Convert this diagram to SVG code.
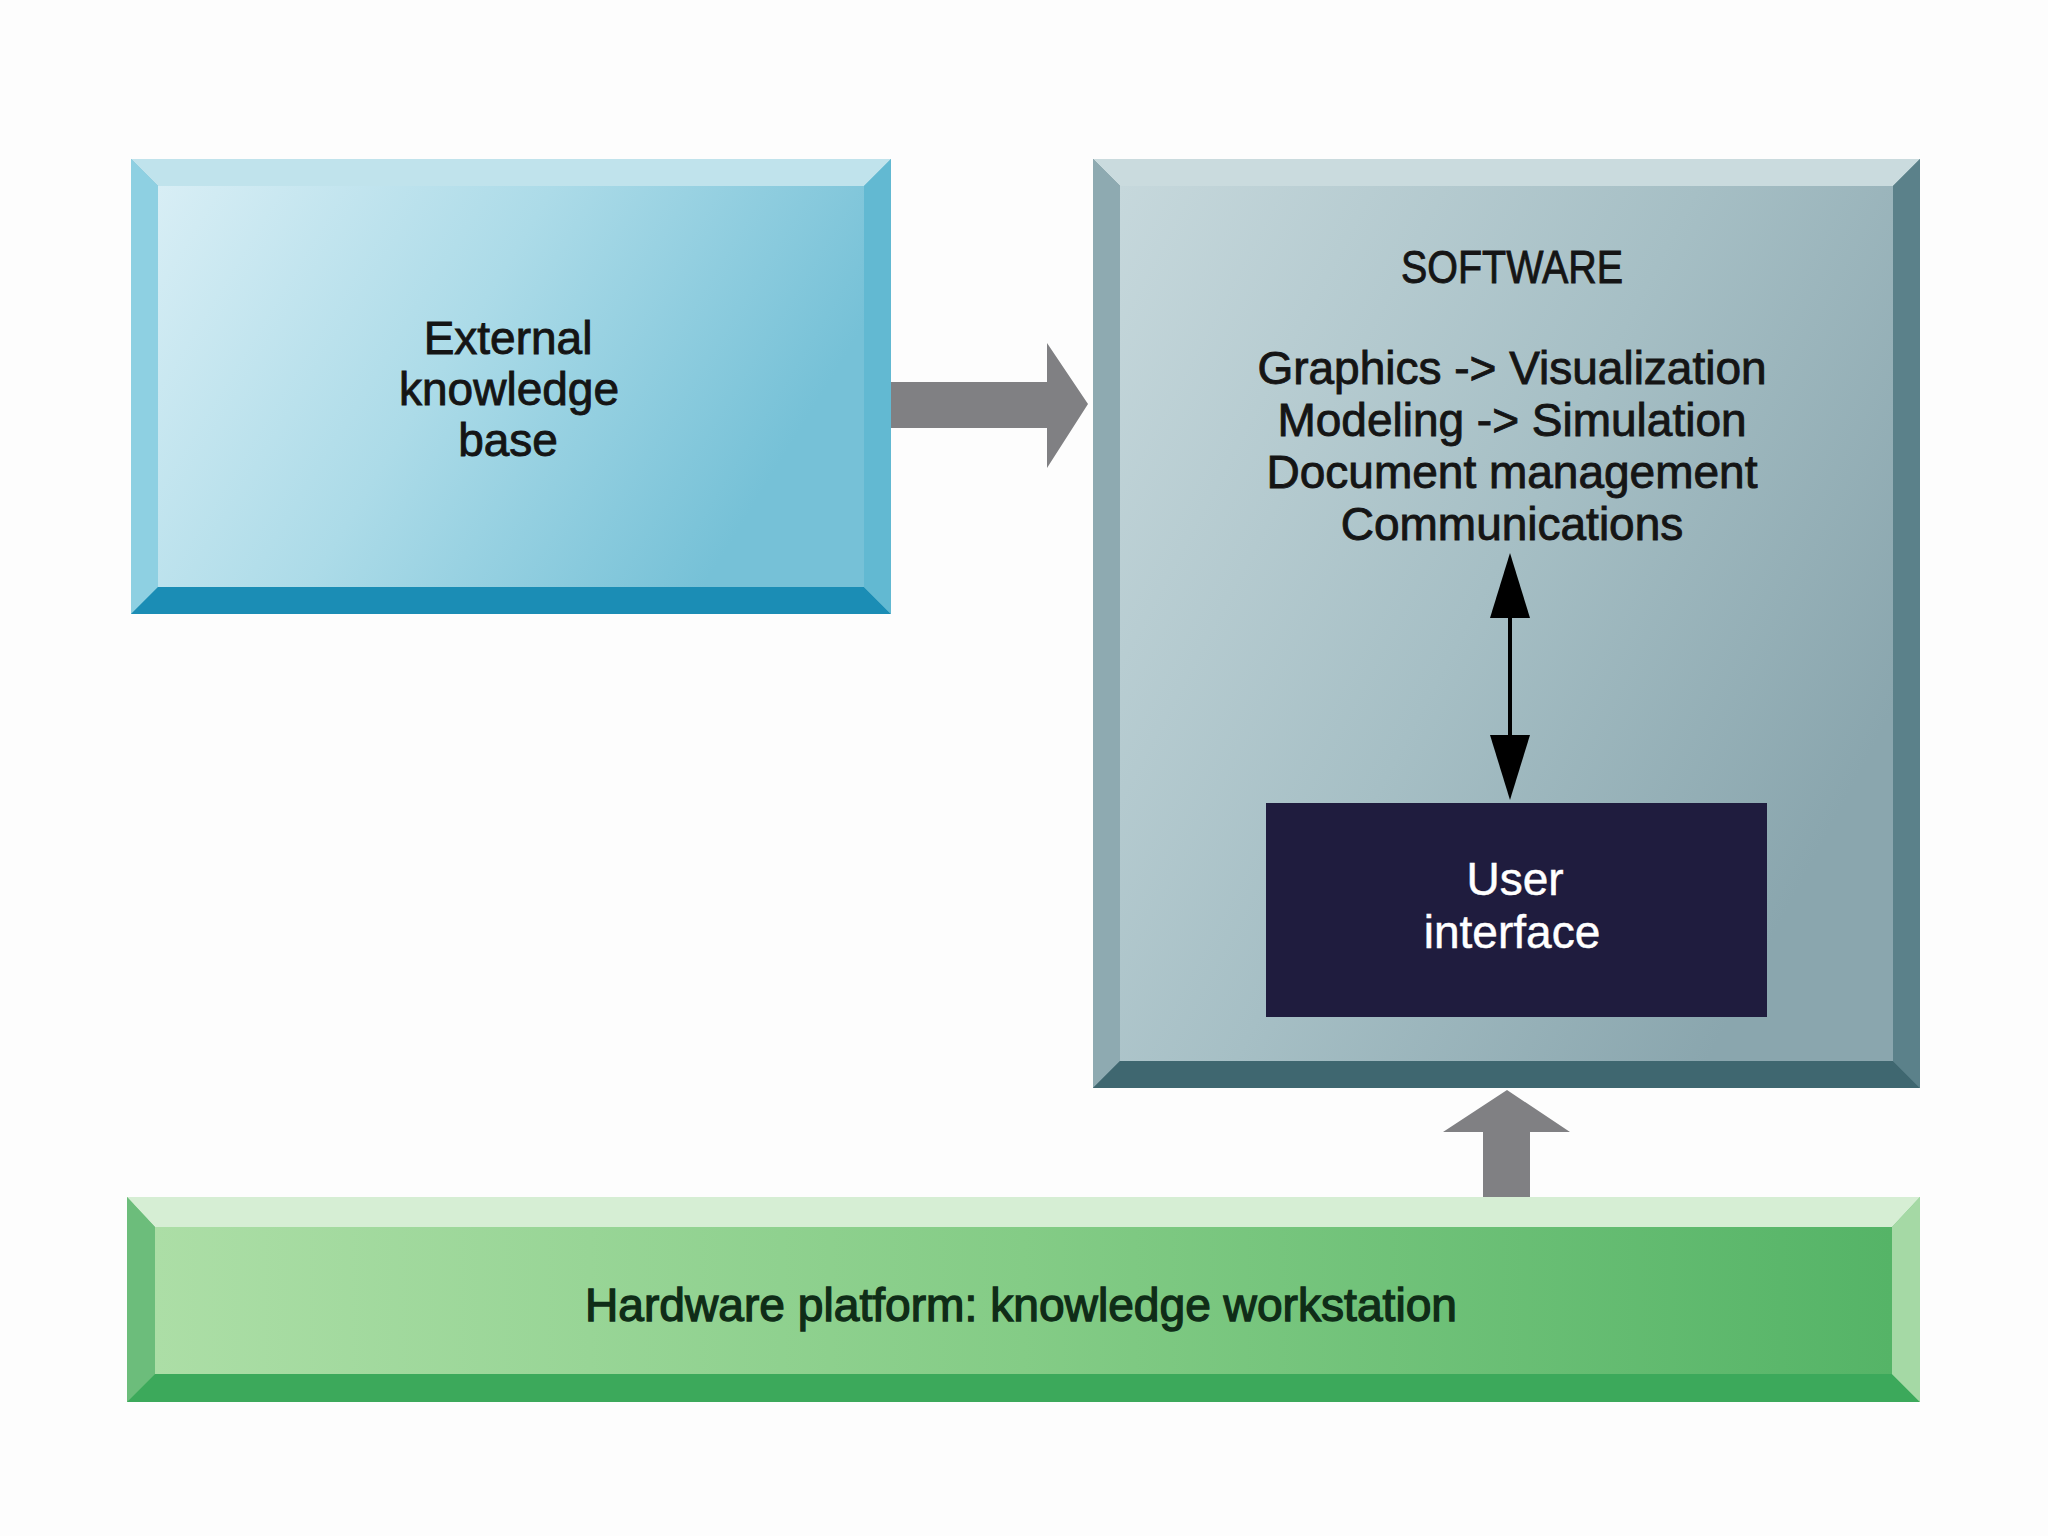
<svg xmlns="http://www.w3.org/2000/svg" width="2048" height="1536" viewBox="0 0 2048 1536">
<defs>
<linearGradient id="gExt" x1="0" y1="0" x2="1" y2="0.35">
<stop offset="0" stop-color="#d8eef5"/>
<stop offset="0.5" stop-color="#acdbe8"/>
<stop offset="1" stop-color="#76c1d7"/>
</linearGradient>
<linearGradient id="gSw" x1="0" y1="0" x2="1" y2="0.6">
<stop offset="0" stop-color="#c6d8dc"/>
<stop offset="0.55" stop-color="#a6bfc5"/>
<stop offset="1" stop-color="#8aa6ae"/>
</linearGradient>
<linearGradient id="gHw" x1="0" y1="0" x2="1" y2="0">
<stop offset="0" stop-color="#acdea6"/>
<stop offset="0.5" stop-color="#84cc86"/>
<stop offset="1" stop-color="#55b467"/>
</linearGradient>
</defs>
<style>
.lbl{font-family:"Liberation Sans",Arial,sans-serif;font-size:46px;text-anchor:middle;fill:#151515;stroke:#151515;stroke-width:0.9px}
.ui{fill:#ffffff;stroke:#ffffff;stroke-width:0.5px}
.hw{fill:#0f2c17;stroke:#0f2c17;stroke-width:1.3px}
.blk{fill:#808083}
</style>
<rect width="2048" height="1536" fill="#fdfdfd"/>

<g id="external">
<rect x="131" y="159" width="760" height="455" fill="#6fbbd1"/>
<polygon points="131,159 891,159 864,186 158,186" fill="#c0e3ec"/>
<polygon points="131,159 158,186 158,587 131,614" fill="#8ed0e2"/>
<polygon points="131,614 158,587 864,587 891,614" fill="#1b8db5"/>
<polygon points="891,159 891,614 864,587 864,186" fill="#62b9d2"/>
<rect x="158" y="186" width="706" height="401" fill="url(#gExt)"/>
<text class="lbl" x="508" y="354">External</text>
<text class="lbl" x="509" y="405">knowledge</text>
<text class="lbl" x="508" y="456">base</text>
</g>

<g id="software">
<rect x="1093" y="159" width="827" height="929" fill="#5f8089"/>
<polygon points="1093,159 1920,159 1893,186 1120,186" fill="#cadbde"/>
<polygon points="1093,159 1120,186 1120,1061 1093,1088" fill="#8eaab1"/>
<polygon points="1093,1088 1120,1061 1893,1061 1920,1088" fill="#3f6770"/>
<polygon points="1920,159 1920,1088 1893,1061 1893,186" fill="#5b818a"/>
<rect x="1120" y="186" width="773" height="875" fill="url(#gSw)"/>
<text class="lbl" x="1512" y="283" textLength="222" lengthAdjust="spacingAndGlyphs">SOFTWARE</text>
<text class="lbl" x="1512" y="384">Graphics -&gt; Visualization</text>
<text class="lbl" x="1512" y="436">Modeling -&gt; Simulation</text>
<text class="lbl" x="1512" y="488">Document management</text>
<text class="lbl" x="1512" y="540">Communications</text>
</g>

<g id="user-interface">
<rect x="1266" y="803" width="501" height="214" fill="#1f1c3e"/>
<text class="lbl ui" x="1515" y="895">User</text>
<text class="lbl ui" x="1512" y="948">interface</text>
</g>

<g id="hardware">
<rect x="127" y="1197" width="1793" height="205" fill="#7cc985"/>
<polygon points="127,1197 1920,1197 1892,1227 155,1227" fill="#d6eed4"/>
<polygon points="127,1197 155,1227 155,1374 127,1402" fill="#6cbd7b"/>
<polygon points="127,1402 155,1374 1892,1374 1920,1402" fill="#3ca95b"/>
<polygon points="1920,1197 1920,1402 1892,1374 1892,1227" fill="#a5d9a5"/>
<rect x="155" y="1227" width="1737" height="147" fill="url(#gHw)"/>
<text class="lbl hw" x="1021" y="1321" textLength="872" lengthAdjust="spacingAndGlyphs">Hardware platform: knowledge workstation</text>
</g>

<g id="connectors">
<polygon class="blk" points="891,382 1047,382 1047,343 1088,404 1047,468 1047,428 891,428"/>
<polygon class="blk" points="1483,1197 1483,1132 1443,1132 1507,1090 1570,1132 1530,1132 1530,1197"/>
<line x1="1510" y1="600" x2="1510" y2="760" stroke="#000" stroke-width="4"/>
<polygon points="1510,553 1530,618 1490,618" fill="#000"/>
<polygon points="1510,800 1530,735 1490,735" fill="#000"/>
</g>
</svg>
